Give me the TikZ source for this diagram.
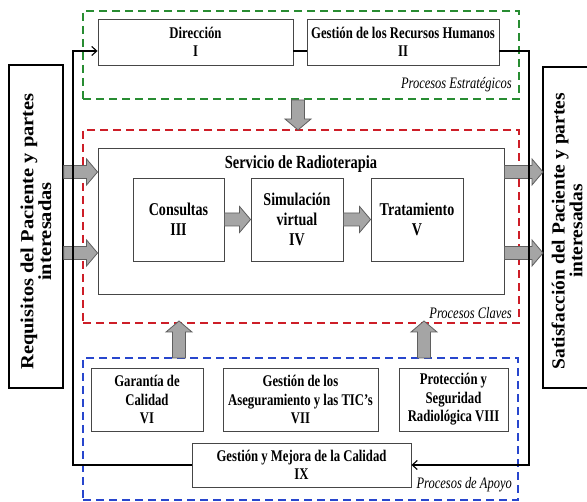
\documentclass[tikz,border=0pt]{standalone}
\usepackage{fontspec}
\setmainfont{Liberation Serif}[FakeStretch=0.78]
\newfontfamily\vfontA{Liberation Serif}[FakeStretch=1.107]
\newfontfamily\vfontB{Liberation Serif}[FakeStretch=1.054]
\usetikzlibrary{calc,arrows.meta}
\definecolor{dgreen}{RGB}{40,140,50}
\definecolor{dred}{RGB}{205,30,40}
\definecolor{dblue}{RGB}{40,70,205}
\definecolor{arrfill}{RGB}{165,165,165}
\definecolor{arrdraw}{RGB}{95,95,95}
\definecolor{boxline}{RGB}{70,70,70}
\tikzset{
  box/.style={draw=boxline, line width=0.9pt, fill=white, inner sep=0pt, align=center,
              font=\fontsize{16.3}{18.5}\selectfont\bfseries},
  corebox/.style={box, font=\fontsize{18}{20}\selectfont\bfseries},
  zone/.style={dash pattern=on 8pt off 5pt, line width=1.6pt, inner sep=0pt},
  lbl/.style={font=\fontsize{16}{18}\selectfont\itshape, anchor=east, inner sep=0pt},
  conn/.style={line width=1.1pt, draw=black},
  conntip/.style={-{Straight Barb[length=5pt,width=9pt]}},
  outerbox/.style={draw=black, line width=1.4pt, inner sep=0pt},
  vtext/.style={rotate=90, align=center, inner sep=0pt},
  garrowstyle/.style={draw=arrdraw, fill=arrfill, line width=0.8pt, line join=miter},
}
\newcommand\garrow[2]{%
  \coordinate (ga-h) at ($(#2)!11pt!(#1)$);
  \filldraw[garrowstyle] ($(#1)!6.5pt!90:(#2)$) -- ($(ga-h)!6.5pt!90:(#2)$)
    -- ($(ga-h)!13pt!90:(#2)$) -- (#2) -- ($(ga-h)!13pt!-90:(#2)$)
    -- ($(ga-h)!6.5pt!-90:(#2)$) -- ($(#1)!6.5pt!-90:(#2)$) -- cycle;}
\begin{document}
\begin{tikzpicture}[x=1pt,y=-1pt]
\useasboundingbox (0,0) rectangle (587,502);
% zones
\node[zone, draw=dgreen, minimum width=436, minimum height=88] (zest) at (301,55) {};
\node[zone, draw=dred, minimum width=436, minimum height=193] (zcla) at (301,226.5) {};
\node[zone, draw=dblue, minimum width=435, minimum height=142] (zapo) at (300.5,429) {};
\node[lbl] (lest) at (512,85) {Procesos Estratégicos};
\node[lbl] (lcla) at (512,313) {Procesos Claves};
\node[lbl] (lapo) at (512,485) {Procesos de Apoyo};
% strategic
\node[box, minimum width=195, minimum height=46] (dir) at (195.5,42) {Dirección\\I};
\node[box, minimum width=192, minimum height=46] (rrhh) at (403,42) {Gestión de los Recursos Humanos\\II};
% core
\node[box, minimum width=406, minimum height=146] (serv) at (301,221) {};
\node[inner sep=0pt, font=\fontsize{18.5}{20}\selectfont\bfseries] (servt) at (301,164) {Servicio de Radioterapia};
\node[corebox, minimum width=91, minimum height=83] (cons) at (178.5,219.5) {Consultas\\III};
\node[corebox, minimum width=92, minimum height=83] (sim) at (297,219.5) {Simulación\\virtual\\IV};
\node[corebox, minimum width=92, minimum height=83] (trat) at (417,219.5) {Tratamiento\\V};
% support
\node[box, minimum width=112, minimum height=63] (gar) at (147,399.5) {Garantía de\\Calidad\\VI};
\node[box, minimum width=155, minimum height=63] (ase) at (300.5,399.5) {Gestión de los\\Aseguramiento y las TIC’s\\VII};
\node[box, minimum width=109, minimum height=63] (prot) at (453.5,399.5) {Protección y\\Seguridad\\Radiológica VIII};
\node[box, minimum width=219, minimum height=44] (ix) at (301.5,465) {Gestión y Mejora de la Calidad\\IX};
% outer boxes
\node[outerbox, draw, minimum width=54, minimum height=323] (req) at (36,226.5) {};
\node[vtext, font=\vfontA\fontsize{18.5}{14.5}\selectfont\bfseries] (reqt) at (36,231.5)
  {Requisitos del Paciente y partes\\interesadas};
\coordinate (sa1) at (587,67);
\coordinate (sa2) at (543,67);
\coordinate (sa3) at (543,388);
\coordinate (sa4) at (587,388);
\draw[black, line width=1.4pt] (sa1) -- (sa2) -- (sa3) -- (sa4);
\node[vtext, font=\vfontB\fontsize{18.5}{14.5}\selectfont\bfseries] (satt) at (567,231)
  {Satisfacción del Paciente y partes\\interesadas};
% gray block arrows
\coordinate (la1) at (req.east |- 0,172);
\coordinate (la1t) at (serv.west |- 0,172);
\coordinate (la2) at (req.east |- 0,253);
\coordinate (la2t) at (serv.west |- 0,253);
\coordinate (ra1) at (serv.east |- 0,172);
\coordinate (ra1t) at (sa2 |- 0,172);
\coordinate (ra2) at (serv.east |- 0,253);
\coordinate (ra2t) at (sa2 |- 0,253);
\coordinate (da) at (298,100);
\coordinate (dat) at (298,130);
\coordinate (ua1) at (179,358);
\coordinate (ua1t) at (179,321);
\coordinate (ua2) at (424,358);
\coordinate (ua2t) at (424,321);
\garrow{la1}{la1t}
\garrow{la2}{la2t}
\garrow{ra1}{ra1t}
\garrow{ra2}{ra2t}
\garrow{da}{dat}
\garrow{ua1}{ua1t}
\garrow{ua2}{ua2t}
\garrow{cons.east}{sim.west}
\garrow{sim.east}{trat.west}
% connectors
\coordinate (ltop) at (73,51);
\coordinate (lbot) at (73,465);
\coordinate (rtop) at (529,51);
\coordinate (rbot) at (529,465);
\draw[conn, conntip] (ix.west) -- (lbot) -- (ltop) -- (dir.west |- ltop);
\draw[conn] (dir.east |- ltop) -- (rrhh.west |- ltop);
\draw[conn, conntip] (rrhh.east |- rtop) -- (rtop) -- (rbot) -- (ix.east);
\end{tikzpicture}
\end{document}
